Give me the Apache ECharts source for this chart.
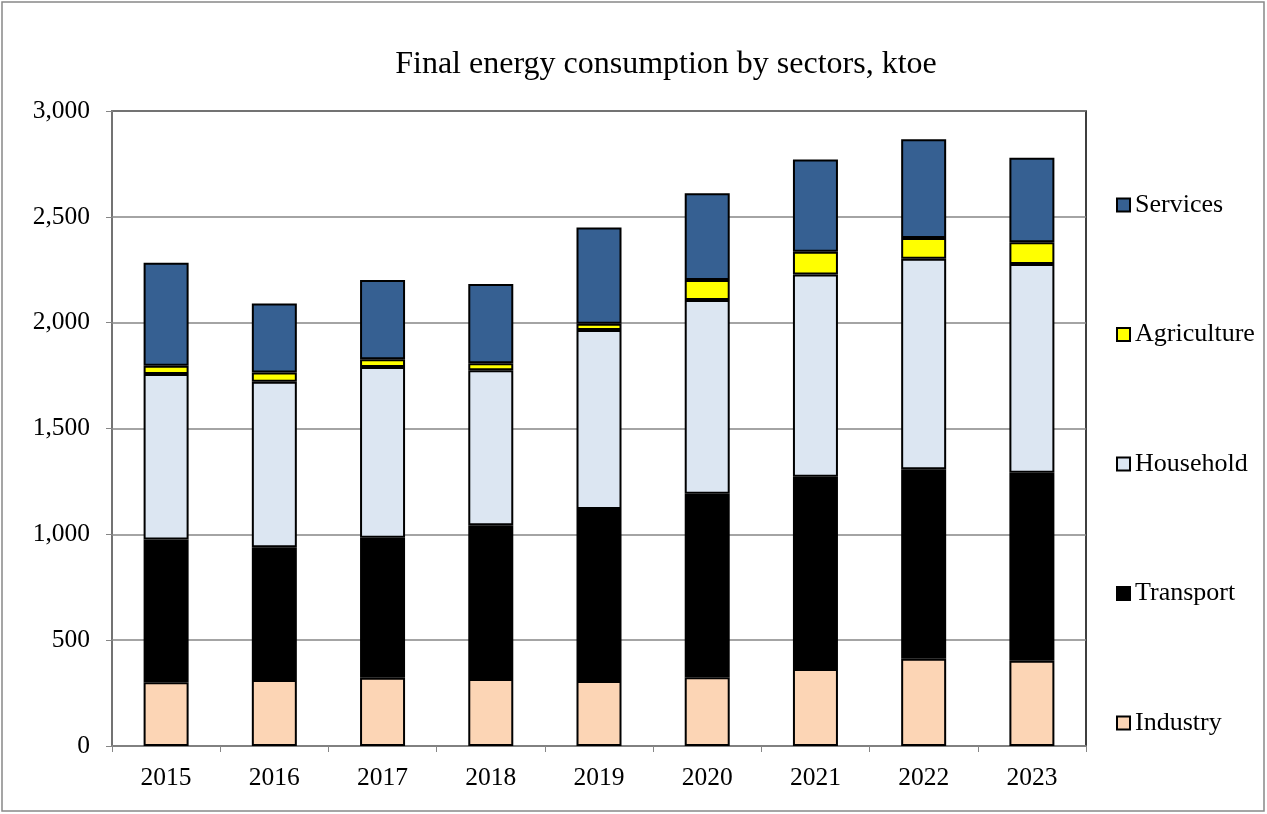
<!DOCTYPE html>
<html>
<head>
<meta charset="utf-8">
<script src="https://cdn.jsdelivr.net/npm/echarts@6/dist/echarts.min.js"></script>
<style>
  html, body { margin: 0; padding: 0; background: #fff; }
  #chart { width: 1267px; height: 814px; }
</style>
</head>
<body>
<div id="chart"></div>
<script type="text/javascript">
// values, ktoe
var years = ['2015', '2016', '2017', '2018', '2019', '2020', '2021', '2022', '2023'];
var industry    = [301, 312, 323, 317, 307, 325, 364, 412, 403];
var transport   = [675, 627, 661, 726, 813, 867, 908, 895, 888];
var household   = [781, 782, 807, 732, 845, 915, 956, 995, 986];
var agriculture = [40, 43, 36, 33, 30, 95, 107, 98, 103];
var services    = [486, 327, 374, 375, 455, 410, 436, 467, 399];
var legendOrder = ['Services', 'Agriculture', 'Household', 'Transport', 'Industry'];

var font = "'Liberation Serif', 'Times New Roman', serif";

function bar(name, data, color) {
    return {
        name: name,
        type: 'bar',
        stack: 'total',
        barWidth: 45,
        data: data,
        itemStyle: { color: color, borderColor: '#000', borderWidth: 2 }
    };
}

var myChart = echarts.init(document.getElementById('chart'));
var option = {
    animation: false,
    backgroundColor: '#fff',
    textStyle: { fontFamily: font },
    title: {
        text: 'Final energy consumption by sectors, ktoe',
        left: 661,
        top: 44,
        textAlign: 'center',
        textStyle: { fontFamily: font, fontSize: 32, fontWeight: 'normal', color: '#000' }
    },
    legend: {
        orient: 'vertical',
        left: 1111,
        top: 187,
        itemWidth: 13,
        itemHeight: 13,
        itemGap: 103.5,
        icon: 'rect',
        data: legendOrder,
        textStyle: { fontFamily: font, fontSize: 26, color: '#000', lineHeight: 26 }
    },
    grid: {
        left: 112, top: 111, right: 181, bottom: 68,
        show: true, borderColor: '#000', borderWidth: 1.5
    },
    graphic: [{
        type: 'rect',
        shape: { x: 2, y: 2, width: 1262, height: 809 },
        style: { fill: 'none', stroke: '#888', lineWidth: 1.5 },
        silent: true
    }],
    xAxis: {
        type: 'category',
        data: years,
        axisLine: { lineStyle: { color: '#868686', width: 1.5 } },
        axisTick: { show: true, length: 6, lineStyle: { color: '#868686' } },
        axisLabel: { fontFamily: font, fontSize: 25.5, color: '#000', margin: 19 }
    },
    yAxis: {
        type: 'value',
        min: 0, max: 3000, interval: 500,
        axisLine: { show: true, lineStyle: { color: '#868686', width: 1.5 } },
        axisTick: { show: true, length: 6, lineStyle: { color: '#868686' } },
        splitLine: { lineStyle: { color: '#868686', width: 1.5 } },
        axisLabel: {
            fontFamily: font, fontSize: 25.5, color: '#000', margin: 22,
            formatter: function (v) { return v.toLocaleString('en-US'); }
        }
    },
    series: [
        bar('Industry', industry, '#FCD5B5'),
        bar('Transport', transport, '#000000'),
        bar('Household', household, '#DCE6F2'),
        bar('Agriculture', agriculture, '#FFFF00'),
        bar('Services', services, '#366092')
    ]
};
myChart.setOption(option);
</script>
</body>
</html>
